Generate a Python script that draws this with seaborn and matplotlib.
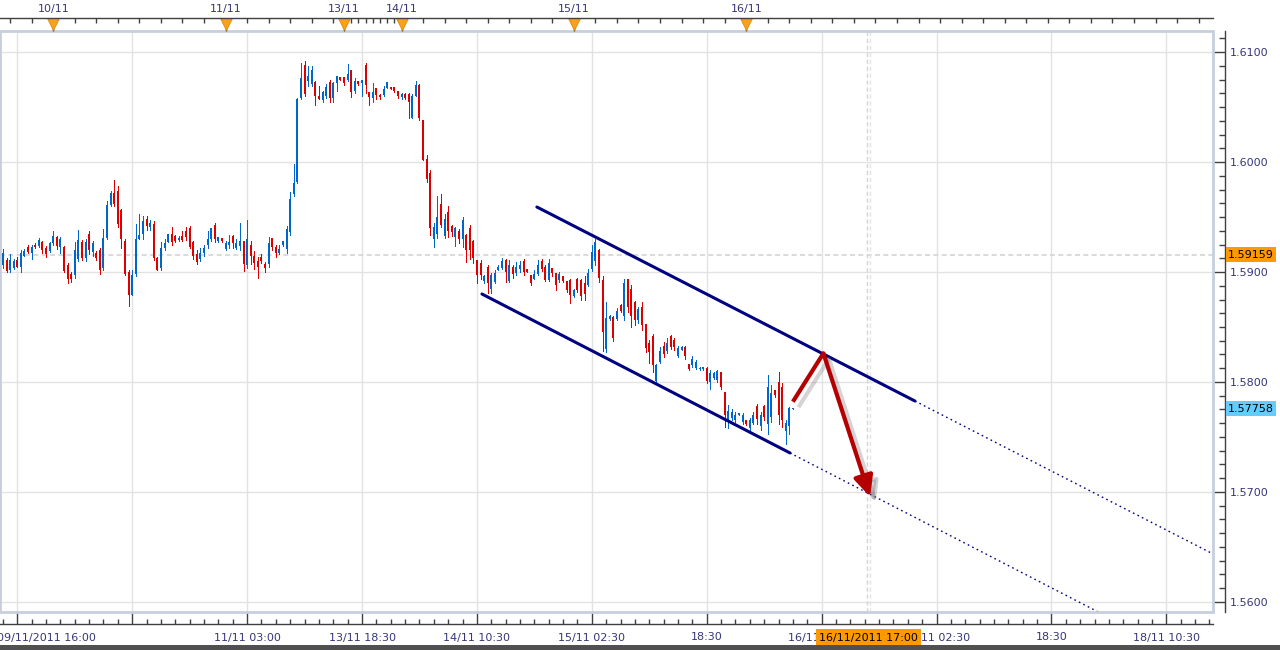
import numpy as np
import pandas as pd
import matplotlib
matplotlib.use('Agg')
import matplotlib.pyplot as plt
import matplotlib.patheffects as pe
import matplotlib.transforms as mtransforms
from matplotlib.patches import Rectangle
from matplotlib.ticker import MultipleLocator, FixedLocator
import seaborn as sns

# 30-minute GBP/USD bars (bar index = position on the axis)
opens = [1.5906, 1.5911, 1.5902, 1.5904, 1.5911, 1.5905, 1.5915, 1.5923, 1.5917, 1.5925,
         1.5924, 1.5927, 1.5922, 1.5919, 1.5926, 1.5932, 1.5923, 1.5923, 1.5906, 1.5898,
         1.5897, 1.5912, 1.5927, 1.5913, 1.5935, 1.5918, 1.5917, 1.5920, 1.5904, 1.5931,
         1.5961, 1.5972, 1.5974, 1.5956, 1.5928, 1.5900, 1.5879, 1.5898, 1.5930, 1.5935,
         1.5948, 1.5941, 1.5944, 1.5913, 1.5904, 1.5922, 1.5927, 1.5935, 1.5933, 1.5929,
         1.5933, 1.5937, 1.5940, 1.5927, 1.5916, 1.5912, 1.5917, 1.5925, 1.5930, 1.5943,
         1.5928, 1.5931, 1.5921, 1.5925, 1.5933, 1.5922, 1.5924, 1.5928, 1.5906, 1.5925,
         1.5915, 1.5910, 1.5914, 1.5907, 1.5907, 1.5931, 1.5923, 1.5917, 1.5925, 1.5921,
         1.5936, 1.5971, 1.5982, 1.6058, 1.6088, 1.6074, 1.6071, 1.6073, 1.6060, 1.6056,
         1.6060, 1.6073, 1.6058, 1.6072, 1.6077, 1.6077, 1.6075, 1.6084, 1.6065, 1.6074,
         1.6072, 1.6088, 1.6064, 1.6058, 1.6067, 1.6061, 1.6061, 1.6067, 1.6068, 1.6068,
         1.6065, 1.6059, 1.6062, 1.6062, 1.6040, 1.6060, 1.6070, 1.6038, 1.6003, 1.5990,
         1.5930, 1.5935, 1.5962, 1.5933, 1.5955, 1.5942, 1.5932, 1.5937, 1.5930, 1.5934,
         1.5940, 1.5928, 1.5911, 1.5908, 1.5892, 1.5905, 1.5885, 1.5891, 1.5902, 1.5904,
         1.5911, 1.5892, 1.5905, 1.5899, 1.5903, 1.5910, 1.5903, 1.5897, 1.5894, 1.5898,
         1.5910, 1.5905, 1.5893, 1.5904, 1.5899, 1.5893, 1.5896, 1.5892, 1.5893, 1.5878,
         1.5894, 1.5893, 1.5890, 1.5888, 1.5903, 1.5910, 1.5920, 1.5893, 1.5830, 1.5857,
         1.5859, 1.5857, 1.5870, 1.5860, 1.5894, 1.5885, 1.5873, 1.5856, 1.5868, 1.5853,
         1.5835, 1.5842, 1.5801, 1.5818, 1.5833, 1.5828, 1.5842, 1.5838, 1.5824, 1.5829,
         1.5832, 1.5816, 1.5815, 1.5813, 1.5812, 1.5812, 1.5813, 1.5800, 1.5804, 1.5802,
         1.5809, 1.5791, 1.5765, 1.5767, 1.5765, 1.5770, 1.5764, 1.5765, 1.5758, 1.5763,
         1.5778, 1.5760, 1.5778, 1.5762, 1.5768, 1.5793, 1.5800, 1.5795, 1.5755, 1.5760,
         1.5775]
highs = [1.5921, 1.5913, 1.5916, 1.5912, 1.5914, 1.5920, 1.5921, 1.5925, 1.5925, 1.5926,
         1.5931, 1.5928, 1.5924, 1.5927, 1.5937, 1.5933, 1.5932, 1.5924, 1.5908, 1.5900,
         1.5927, 1.5938, 1.5929, 1.5930, 1.5937, 1.5928, 1.5919, 1.5922, 1.5939, 1.5965,
         1.5974, 1.5984, 1.5978, 1.5957, 1.5930, 1.5902, 1.5902, 1.5944, 1.5953, 1.5951,
         1.5951, 1.5947, 1.5946, 1.5914, 1.5927, 1.5930, 1.5935, 1.5941, 1.5934, 1.5933,
         1.5937, 1.5941, 1.5942, 1.5928, 1.5920, 1.5922, 1.5925, 1.5937, 1.5940, 1.5945,
         1.5932, 1.5931, 1.5928, 1.5934, 1.5934, 1.5930, 1.5945, 1.5928, 1.5947, 1.5928,
         1.5919, 1.5914, 1.5916, 1.5909, 1.5932, 1.5931, 1.5925, 1.5925, 1.5928, 1.5942,
         1.5973, 1.5998, 1.6058, 1.6090, 1.6092, 1.6087, 1.6087, 1.6074, 1.6069, 1.6065,
         1.6071, 1.6075, 1.6073, 1.6078, 1.6077, 1.6077, 1.6089, 1.6084, 1.6076, 1.6074,
         1.6075, 1.6090, 1.6064, 1.6072, 1.6067, 1.6062, 1.6069, 1.6073, 1.6068, 1.6068,
         1.6065, 1.6063, 1.6063, 1.6063, 1.6062, 1.6074, 1.6071, 1.6038, 1.6006, 1.5993,
         1.5945, 1.5969, 1.5971, 1.5953, 1.5960, 1.5943, 1.5941, 1.5939, 1.5950, 1.5935,
         1.5943, 1.5929, 1.5911, 1.5911, 1.5897, 1.5906, 1.5899, 1.5902, 1.5906, 1.5913,
         1.5912, 1.5911, 1.5906, 1.5909, 1.5910, 1.5912, 1.5903, 1.5897, 1.5902, 1.5911,
         1.5912, 1.5906, 1.5912, 1.5904, 1.5899, 1.5900, 1.5896, 1.5892, 1.5894, 1.5885,
         1.5895, 1.5894, 1.5896, 1.5903, 1.5925, 1.5930, 1.5921, 1.5896, 1.5873, 1.5861,
         1.5860, 1.5867, 1.5871, 1.5894, 1.5894, 1.5888, 1.5874, 1.5868, 1.5873, 1.5853,
         1.5838, 1.5844, 1.5816, 1.5832, 1.5836, 1.5840, 1.5843, 1.5840, 1.5833, 1.5833,
         1.5833, 1.5816, 1.5824, 1.5820, 1.5814, 1.5814, 1.5814, 1.5811, 1.5809, 1.5811,
         1.5809, 1.5791, 1.5779, 1.5775, 1.5773, 1.5772, 1.5772, 1.5765, 1.5767, 1.5773,
         1.5780, 1.5773, 1.5779, 1.5806, 1.5797, 1.5793, 1.5809, 1.5799, 1.5765, 1.5777,
         1.5776]
lows = [1.5904, 1.5900, 1.5900, 1.5903, 1.5905, 1.5900, 1.5915, 1.5917, 1.5912, 1.5922,
        1.5923, 1.5917, 1.5914, 1.5918, 1.5925, 1.5921, 1.5917, 1.5900, 1.5890, 1.5891,
        1.5895, 1.5910, 1.5911, 1.5910, 1.5916, 1.5915, 1.5911, 1.5898, 1.5902, 1.5930,
        1.5960, 1.5960, 1.5941, 1.5922, 1.5897, 1.5869, 1.5879, 1.5896, 1.5930, 1.5930,
        1.5938, 1.5938, 1.5911, 1.5902, 1.5902, 1.5920, 1.5927, 1.5925, 1.5927, 1.5928,
        1.5928, 1.5929, 1.5922, 1.5912, 1.5907, 1.5910, 1.5915, 1.5922, 1.5928, 1.5927,
        1.5927, 1.5927, 1.5920, 1.5922, 1.5922, 1.5921, 1.5920, 1.5901, 1.5904, 1.5907,
        1.5903, 1.5895, 1.5908, 1.5900, 1.5905, 1.5920, 1.5914, 1.5916, 1.5924, 1.5917,
        1.5934, 1.5969, 1.5981, 1.6057, 1.6060, 1.6069, 1.6069, 1.6052, 1.6057, 1.6055,
        1.6058, 1.6055, 1.6055, 1.6065, 1.6075, 1.6070, 1.6074, 1.6059, 1.6063, 1.6070,
        1.6060, 1.6063, 1.6052, 1.6055, 1.6057, 1.6057, 1.6060, 1.6067, 1.6066, 1.6064,
        1.6058, 1.6057, 1.6057, 1.6040, 1.6040, 1.6060, 1.6038, 1.6002, 1.5982, 1.5934,
        1.5923, 1.5931, 1.5941, 1.5931, 1.5932, 1.5933, 1.5924, 1.5926, 1.5923, 1.5909,
        1.5912, 1.5908, 1.5890, 1.5894, 1.5890, 1.5881, 1.5881, 1.5890, 1.5902, 1.5903,
        1.5891, 1.5891, 1.5895, 1.5897, 1.5900, 1.5897, 1.5900, 1.5888, 1.5894, 1.5897,
        1.5901, 1.5892, 1.5892, 1.5896, 1.5884, 1.5891, 1.5891, 1.5882, 1.5872, 1.5877,
        1.5882, 1.5875, 1.5875, 1.5887, 1.5901, 1.5906, 1.5891, 1.5828, 1.5827, 1.5856,
        1.5837, 1.5856, 1.5864, 1.5856, 1.5864, 1.5850, 1.5852, 1.5854, 1.5847, 1.5827,
        1.5817, 1.5809, 1.5799, 1.5817, 1.5823, 1.5826, 1.5830, 1.5829, 1.5823, 1.5829,
        1.5821, 1.5811, 1.5814, 1.5812, 1.5811, 1.5811, 1.5799, 1.5794, 1.5803, 1.5800,
        1.5794, 1.5759, 1.5758, 1.5765, 1.5764, 1.5770, 1.5762, 1.5761, 1.5756, 1.5762,
        1.5762, 1.5756, 1.5765, 1.5753, 1.5764, 1.5786, 1.5762, 1.5759, 1.5744, 1.5753,
        1.5775]
closes = [1.5917, 1.5901, 1.5911, 1.5910, 1.5905, 1.5917, 1.5919, 1.5918, 1.5923, 1.5923,
          1.5929, 1.5920, 1.5916, 1.5926, 1.5933, 1.5924, 1.5930, 1.5901, 1.5894, 1.5894,
          1.5920, 1.5929, 1.5913, 1.5927, 1.5920, 1.5926, 1.5913, 1.5902, 1.5931, 1.5961,
          1.5972, 1.5962, 1.5944, 1.5930, 1.5898, 1.5879, 1.5897, 1.5930, 1.5934, 1.5946,
          1.5942, 1.5945, 1.5913, 1.5902, 1.5922, 1.5926, 1.5935, 1.5927, 1.5928, 1.5931,
          1.5929, 1.5932, 1.5923, 1.5915, 1.5909, 1.5917, 1.5922, 1.5930, 1.5940, 1.5930,
          1.5932, 1.5928, 1.5926, 1.5927, 1.5926, 1.5926, 1.5928, 1.5907, 1.5930, 1.5915,
          1.5908, 1.5905, 1.5910, 1.5904, 1.5926, 1.5923, 1.5917, 1.5921, 1.5928, 1.5939,
          1.5966, 1.5981, 1.6057, 1.6076, 1.6062, 1.6078, 1.6084, 1.6060, 1.6057, 1.6064,
          1.6068, 1.6058, 1.6072, 1.6078, 1.6075, 1.6072, 1.6080, 1.6064, 1.6074, 1.6071,
          1.6075, 1.6070, 1.6059, 1.6064, 1.6061, 1.6059, 1.6066, 1.6073, 1.6066, 1.6065,
          1.6060, 1.6062, 1.6058, 1.6055, 1.6060, 1.6070, 1.6040, 1.6002, 1.5985, 1.5940,
          1.5941, 1.5950, 1.5943, 1.5948, 1.5937, 1.5936, 1.5940, 1.5930, 1.5947, 1.5920,
          1.5920, 1.5913, 1.5897, 1.5897, 1.5896, 1.5890, 1.5897, 1.5899, 1.5905, 1.5910,
          1.5900, 1.5906, 1.5898, 1.5905, 1.5906, 1.5900, 1.5900, 1.5890, 1.5898, 1.5906,
          1.5903, 1.5893, 1.5908, 1.5899, 1.5888, 1.5898, 1.5892, 1.5884, 1.5879, 1.5884,
          1.5884, 1.5878, 1.5880, 1.5899, 1.5918, 1.5927, 1.5895, 1.5845, 1.5858, 1.5860,
          1.5840, 1.5865, 1.5865, 1.5890, 1.5868, 1.5860, 1.5856, 1.5866, 1.5852, 1.5831,
          1.5827, 1.5815, 1.5815, 1.5828, 1.5825, 1.5835, 1.5832, 1.5832, 1.5831, 1.5832,
          1.5824, 1.5812, 1.5821, 1.5818, 1.5813, 1.5814, 1.5801, 1.5808, 1.5808, 1.5810,
          1.5795, 1.5770, 1.5774, 1.5773, 1.5770, 1.5772, 1.5770, 1.5762, 1.5765, 1.5770,
          1.5766, 1.5770, 1.5768, 1.5795, 1.5790, 1.5788, 1.5770, 1.5765, 1.5763, 1.5776,
          1.5776]

# axis labels (bottom gridlines every 32 bars, day markers on top)
time_ticks = [4, 36, 68, 100, 132, 164, 196, 228, 260, 292, 324]
time_labels = ['09/11/2011 16:00', '', '11/11 03:00', '13/11 18:30', '14/11 10:30',
               '15/11 02:30', '18:30', '16/11 10:30', '17/11 02:30', '18:30', '18/11 10:30']
day_bars = [14, 62, 95, 111, 159, 207]
day_labels = ['10/11', '11/11', '13/11', '14/11', '15/11', '16/11']

# hand-drawn channel and the projected move
upper_x = [148.7, 254.0, 339.5]
upper_y = [1.59591, 1.57827, 1.56395]
lower_x = [133.4, 219.2, 305.0]
lower_y = [1.58800, 1.57355, 1.55910]
arrow_x = [220.0, 228.5, 241.5]
arrow_y = [1.57821, 1.58261, 1.56957]

cross_bar = 241
cross_time = '16/11/2011 17:00'
cross_price = 1.59159
last_price = 1.57758

UP, DOWN = '#0066cc', '#dd0000'
NAVY = '#000080'
ARROW = '#b40000'
TXT = '#36367a'
AXC = '#404040'
PX = 72 / 100  # points per pixel at dpi 100

sns.set_style('white')
plt.rcParams['font.family'] = ['DejaVu Sans']

fig = plt.figure(figsize=(12.8, 6.5), dpi=100)
ax = fig.add_axes([0, 1 - 612 / 650, 1213 / 1280, 581 / 650])
ax.set_xlim(-0.82, 337.0)
ax.set_ylim(1.55909, 1.61191)

# grid
ax.set_xticks(time_ticks, [''] + time_labels[1:])
ax.xaxis.set_minor_locator(MultipleLocator(4))
ax.yaxis.set_major_locator(MultipleLocator(0.01))
ax.yaxis.set_minor_locator(MultipleLocator(0.00125))
ax.yaxis.set_major_formatter(matplotlib.ticker.FormatStrFormatter('%.4f'))
ax.grid(True, which='major', color='#e2e2e2', lw=1)
ax.set_axisbelow(True)

# crosshair
ax.axhline(cross_price, color='#d4d4d4', lw=1.2, dashes=(3, 2), zorder=1)
ax.axvline(cross_bar - 0.4, color='#d4d4d4', lw=1, dashes=(3, 2), zorder=1)
ax.axvline(cross_bar + 0.4, color='#e4e4e4', lw=1, dashes=(3, 2), zorder=1)

# candles: 1px wick, 2px body
df = pd.DataFrame({'open': opens, 'high': highs, 'low': lows, 'close': closes})
df['bar'] = np.arange(len(df))
df['color'] = np.where(df['close'] >= df['open'], UP, DOWN)
body_lo = df[['open', 'close']].min(axis=1)
body_hi = df[['open', 'close']].max(axis=1)
ax.vlines(df['bar'], df['low'], df['high'], colors=df['color'], lw=1 * PX,
          antialiased=False, zorder=3)
ax.vlines(df['bar'], body_lo, np.maximum(body_hi, body_lo + 0.00002),
          colors=df['color'], lw=2 * PX, antialiased=False, zorder=3)

# channel lines
sns.lineplot(x=upper_x[:2], y=upper_y[:2], ax=ax, color=NAVY, lw=2.2, zorder=4)
sns.lineplot(x=lower_x[:2], y=lower_y[:2], ax=ax, color=NAVY, lw=2.2, zorder=4)
sns.lineplot(x=upper_x[1:], y=upper_y[1:], ax=ax, color=NAVY, lw=1, dashes=False,
             linestyle=(0, (1.2, 2.4)), zorder=4)
sns.lineplot(x=lower_x[1:], y=lower_y[1:], ax=ax, color=NAVY, lw=1, dashes=False,
             linestyle=(0, (1.2, 2.4)), zorder=4)

# red arrows with drop shadow
shadow = [pe.SimpleLineShadow(offset=(4, -4), shadow_color='0.45', alpha=0.3), pe.Normal()]
ax.plot(arrow_x[:2], arrow_y[:2], color=ARROW, lw=3, solid_capstyle='butt',
        path_effects=shadow, zorder=5)
ann = ax.annotate('', xy=(arrow_x[2], arrow_y[2]), xytext=(arrow_x[1], arrow_y[1]),
                  arrowprops=dict(arrowstyle='-|>,head_length=0.95,head_width=0.45',
                                  color=ARROW, lw=3, shrinkA=0, shrinkB=0,
                                  mutation_scale=13), zorder=5)
ann.arrow_patch.set_path_effects([
    pe.SimplePatchShadow(offset=(4, -4), shadow_rgbFace='0.45', alpha=0.3),
    pe.SimpleLineShadow(offset=(4, -4), shadow_color='0.45', alpha=0.3),
    pe.Normal()])

# frame and axes
ax.add_patch(Rectangle((0, 0), 1, 1, transform=ax.transAxes, fill=False,
                       ec='#c6d0dc', lw=2, clip_on=False, zorder=6))
ax.spines['left'].set_visible(False)
ax.spines['top'].set_visible(False)
ax.spines['bottom'].set_position(('outward', 12 * PX))
ax.spines['right'].set_position(('outward', 12 * PX))
for s in ('bottom', 'right'):
    ax.spines[s].set_visible(True)
    ax.spines[s].set_color(AXC)
    ax.spines[s].set_linewidth(1)
ax.yaxis.tick_right()
ax.xaxis.tick_bottom()
ax.tick_params(axis='x', which='major', direction='in', length=12 * PX, width=1, color=AXC,
               pad=8.5 * PX, labelsize=8, labelcolor=TXT)
ax.tick_params(axis='x', which='minor', direction='in', length=5 * PX, width=1, color=AXC)
ax.tick_params(axis='y', which='major', direction='in', length=12 * PX, width=1, color=AXC,
               pad=5 * PX, labelsize=8, labelcolor=TXT)
ax.tick_params(axis='y', which='minor', direction='in', length=6 * PX, width=1, color=AXC)

xtrans = mtransforms.blended_transform_factory(ax.transData, ax.transAxes)
label_drop = mtransforms.ScaledTranslation(0, -20.5 / 100, fig.dpi_scale_trans)

# first time label is pushed right so it stays on screen
ax.text(time_ticks[0], 0, time_labels[0], fontsize=8, color=TXT, ha='left', va='top',
        transform=xtrans + label_drop
        + mtransforms.ScaledTranslation(-0.20, 0, fig.dpi_scale_trans),
        clip_on=False)

# top day axis
ax2 = ax.twiny()
ax2.set_xlim(ax.get_xlim())
ax2.grid(False)
for s in ('left', 'right', 'bottom'):
    ax2.spines[s].set_visible(False)
ax2.spines['top'].set_visible(True)
ax2.spines['top'].set_position(('outward', 13 * PX))
ax2.spines['top'].set_color(AXC)
ax2.spines['top'].set_linewidth(1)
ax2.set_xticks(day_bars, day_labels)
top_minor = list(range(2, 95, 6)) + list(range(97, 111, 2)) + list(range(117, 340, 6))
ax2.xaxis.set_minor_locator(FixedLocator(top_minor))
ax2.tick_params(axis='x', which='major', direction='in', length=13 * PX, width=1, color=AXC,
                pad=4 * PX, labelsize=8, labelcolor=TXT)
ax2.tick_params(axis='x', which='minor', direction='in', length=5 * PX, width=1, color=AXC)
ax2.plot(day_bars, [1] * len(day_bars), ls='none', marker='v', ms=8, mfc='#f7a21b',
         mec='#e08800', mew=0.6, clip_on=False, zorder=1,
         transform=mtransforms.blended_transform_factory(ax2.transData, ax2.transAxes)
         + mtransforms.ScaledTranslation(0, 0.075, fig.dpi_scale_trans))

# price flags on the right axis
ytrans = mtransforms.blended_transform_factory(ax.transAxes, ax.transData)
ax.text(1228 / 1213, cross_price, f'{cross_price:.5f}', transform=ytrans, fontsize=8,
        color='black', ha='left', va='center', clip_on=False, zorder=7,
        bbox=dict(boxstyle='square,pad=0.2', fc='#ff9900', ec='none'))
ax.text(1228 / 1213, last_price, f'{last_price:.5f}', transform=ytrans, fontsize=8,
        color='black', ha='left', va='center', clip_on=False, zorder=7,
        bbox=dict(boxstyle='square,pad=0.2', fc='#66ccff', ec='none'))

# time flag under the crosshair
ax.text(cross_bar, 0, cross_time, fontsize=8, color='black', ha='center', va='top',
        transform=xtrans + label_drop, clip_on=False, zorder=7,
        bbox=dict(boxstyle='square,pad=0.3', fc='#ff9900', ec='none'))

# scrollbar strip at the very bottom
fig.add_artist(Rectangle((0, 0), 1, 5 / 650, transform=fig.transFigure, fc='#505050',
                         ec='none'))

fig.savefig('out.png', dpi=100)
